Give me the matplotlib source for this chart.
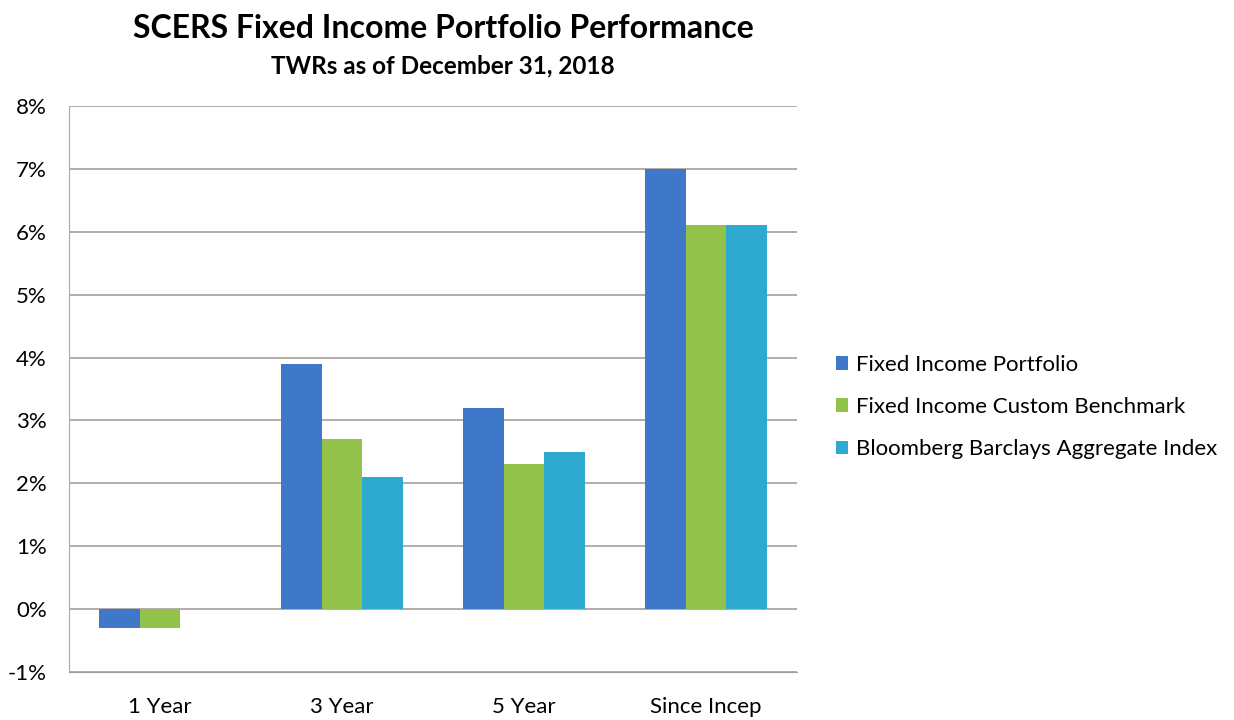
import matplotlib.pyplot as plt
import numpy as np

plt.rcParams['font.family'] = ['Lato', 'DejaVu Sans']

categories = ['1 Year', '3 Year', '5 Year', 'Since Incep']
portfolio = [-0.3, 3.9, 3.2, 7.0]
benchmark = [-0.3, 2.7, 2.3, 6.1]
aggregate = [0.0, 2.1, 2.5, 6.1]
series_names = ['Fixed Income Portfolio', 'Fixed Income Custom Benchmark',
                'Bloomberg Barclays Aggregate Index']
yticks = [-1, 0, 1, 2, 3, 4, 5, 6, 7, 8]

colors = ['#3f78c8', '#93c24a', '#2eaad0']

fig = plt.figure(figsize=(12.34, 7.2), dpi=100)
ax = fig.add_axes([69/1234, 1-672/720, (797-69)/1234, (672-106)/720])

x = np.arange(len(categories))
w = 0.225
for i, (vals, name) in enumerate(zip([portfolio, benchmark, aggregate], series_names)):
    ax.bar(x + (i-1)*w, vals, w, color=colors[i], label=name, zorder=3)

ax.set_xlim(-0.5, 3.5)
ax.set_ylim(-1, 8)
ax.set_yticks(yticks)
ax.set_yticklabels([f'{t}%' for t in yticks], fontsize=16)
ax.set_xticks(x)
ax.set_xticklabels(categories, fontsize=16)
ax.tick_params(axis='y', length=0, pad=16)
ax.tick_params(axis='x', length=0, pad=18)
ax.grid(axis='y', color='#a89c98', linewidth=1.2, zorder=0)
for s in ['top', 'right']:
    ax.spines[s].set_visible(False)
ax.spines['left'].set_color('#b0a8a6')
ax.spines['bottom'].set_color('#a89c98')

fig.text(443/1234, 1-28/720, 'SCERS Fixed Income Portfolio Performance',
         ha='center', va='center', fontsize=23, fontweight='bold')
fig.text(443/1234, 1-66/720, 'TWRs as of December 31, 2018',
         ha='center', va='center', fontsize=17.5, fontweight='bold')

fig.legend(loc='center left', bbox_to_anchor=(816/1234, 1-407/720), frameon=False,
           fontsize=16, handlelength=0.55, handleheight=0.55, handletextpad=0.35,
           labelspacing=1.0)

fig.savefig('out.png', dpi=100)
